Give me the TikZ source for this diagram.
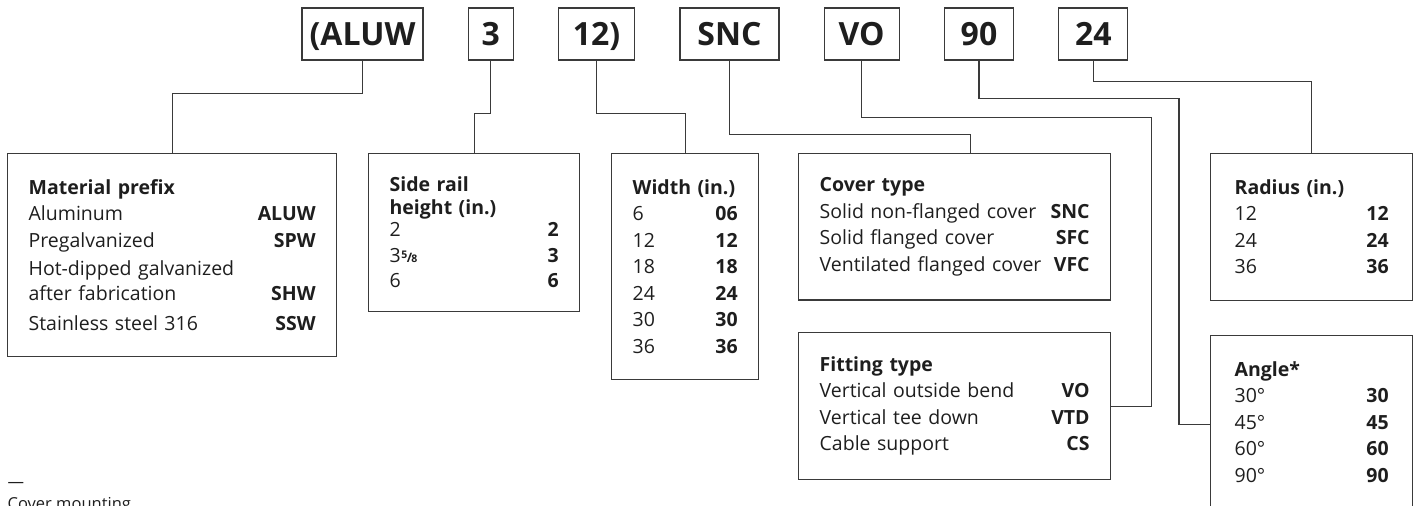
\documentclass[tikz,border=0pt]{standalone}
\usepackage{fontspec}
\setmainfont{Open Sans}
\usepackage{tikz}
\usetikzlibrary{positioning}
\definecolor{KeyLine}{HTML}{3A3A3A}
\definecolor{KeyText}{HTML}{1E1E1E}
\newcommand{\fiveeighths}{\kern0.5pt\raisebox{4.5pt}{\fontsize{10.5}{10.5}\selectfont\bfseries 5}\kern-0.5pt{\fontsize{13}{13}\selectfont\bfseries /}\kern-0.8pt{\fontsize{10.5}{10.5}\selectfont\bfseries 8}}

\begin{document}
\begin{tikzpicture}[x=1pt,y=-1pt,line width=1.3pt,
    codebox/.style={draw=KeyLine,minimum height=52pt,inner sep=0pt,
      text height=22.5pt,text depth=0pt,text=KeyText,
      font=\fontsize{32}{32}\selectfont\bfseries},
    infobox/.style={draw=KeyLine,anchor=north west,align=left,
      inner xsep=21pt,inner ysep=26pt,text=KeyText,
      font=\fontsize{19.5}{26.5}\selectfont},
    link/.style={draw=KeyLine,line width=1.3pt},
    notetext/.style={anchor=base west,inner sep=0pt,text=KeyText,
      font=\fontsize{16.5}{16.5}\selectfont}]
  \useasboundingbox (0,0) rectangle (1419,506);
  \clip (0,0) rectangle (1419,506);

  % catalogue number
  \node[codebox,minimum width=121pt] (aluw) at (362.5,34) {(ALUW};
  \node[codebox,minimum width=45pt,right=44pt of aluw] (three) {3};
  \node[codebox,minimum width=76pt,right=44pt of three] (twelve) {12)};
  \node[codebox,minimum width=99pt,right=44pt of twelve] (snc) {SNC};
  \node[codebox,minimum width=75pt,right=44pt of snc] (vo) {VO};
  \node[codebox,minimum width=69pt,right=44pt of vo] (ninety) {90};
  \node[codebox,minimum width=69pt,right=44pt of ninety] (twentyfour) {24};

  % option tables
  \node[infobox,text width=287pt] (material) at (7,153)
    {\textbf{Material prefix}\\[-0.5pt]
     Aluminum\hfill\textbf{ALUW}\\[0.5pt]
     Pregalvanized\hfill\textbf{SPW}\\[1.5pt]
     Hot-dipped galvanized\\[-1.5pt]
     after fabrication\hfill\textbf{SHW}\\[3.5pt]
     Stainless steel 316\hfill\textbf{SSW}};
  \node[infobox,text width=169pt,inner ysep=23pt] (side) at (368,153)
    {\textbf{Side rail}\\[-3pt]
     \textbf{height (in.)}\\[-5pt]
     2\hfill\textbf{2}\\
     3\fiveeighths\hfill\textbf{3}\\[-1.5pt]
     6\hfill\textbf{6}};
  \node[infobox,text width=105pt] (width) at (611,153)
    {\textbf{Width (in.)}\\
     6\hfill\textbf{06}\\
     12\hfill\textbf{12}\\
     18\hfill\textbf{18}\\
     24\hfill\textbf{24}\\
     30\hfill\textbf{30}\\
     36\hfill\textbf{36}};
  \node[infobox,text width=270pt,inner ysep=24pt] (cover) at (798,153)
    {\textbf{Cover type}\\
     Solid non-flanged cover\hfill\textbf{SNC}\\
     Solid flanged cover\hfill\textbf{SFC}\\
     Ventilated flanged cover\hfill\textbf{VFC}};
  \node[infobox,text width=270pt,inner ysep=24pt] (fitting) at (798,332)
    {\textbf{Fitting type}\\
     Vertical outside bend\hfill\textbf{VO}\\
     Vertical tee down\hfill\textbf{VTD}\\
     Cable support\hfill\textbf{CS}};
  \node[infobox,text width=154pt,minimum width=202pt] (radius) at (1210,153)
    {\textbf{Radius (in.)}\\
     12\hfill\textbf{12}\\
     24\hfill\textbf{24}\\
     36\hfill\textbf{36}};
  \node[infobox,text width=154pt,minimum width=202pt] (angle) at (1210,335)
    {\textbf{Angle*}\\
     30°\hfill\textbf{30}\\
     45°\hfill\textbf{45}\\
     60°\hfill\textbf{60}\\
     90°\hfill\textbf{90}};

  % leader lines
  \draw[link] (aluw.south) -- ++(0,33) -| (material.north);
  \draw[link] (three.south) -- ++(0,53) -| (side.north);
  \draw[link] (twelve.south) -- ++(0,53) -| (width.north);
  \draw[link] (snc.south) -- ++(0,74) -| ([xshift=16pt]cover.north);
  \draw[link] (vo.south) -- ++(0,57) -| ([xshift=40pt]fitting.east) -- (fitting.east);
  \draw[link] (ninety.south) -- ++(0,38) -| ([xshift=-31pt,yshift=-2pt]angle.west) -- ([yshift=-2pt]angle.west);
  \draw[link] (twentyfour.south) -- ++(0,21) -| (radius.north);

  % footnote heading
  \node[notetext] (notedash) at (7,487) {—};
  \node[notetext] (notehead) at (7,509) {Cover mounting};
\end{tikzpicture}
\end{document}
